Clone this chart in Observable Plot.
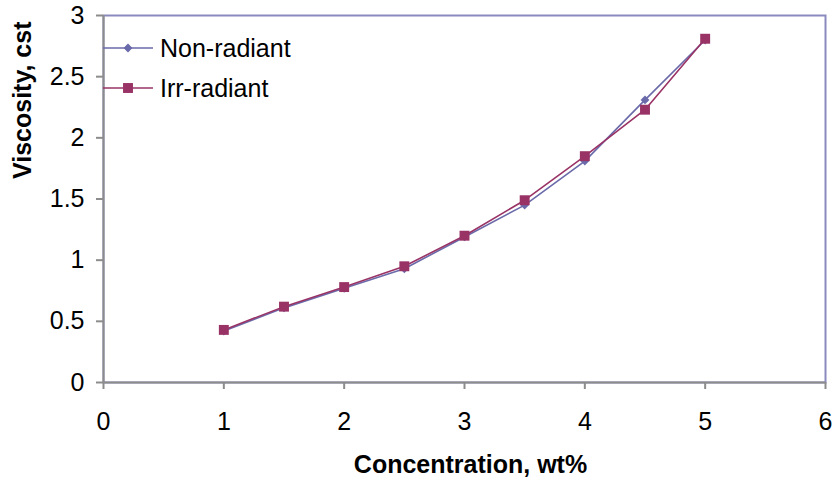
<!DOCTYPE html>
<html>
<head>
<meta charset="utf-8">
<script src="https://cdn.jsdelivr.net/npm/d3@7"></script>
<script src="https://cdn.jsdelivr.net/npm/@observablehq/plot@0.6"></script>
<style>
  html, body { margin: 0; padding: 0; background: #fff; }
  #wrap { position: relative; width: 836px; height: 486px; font-family: "Liberation Sans", Arial, sans-serif; }
  #legend { position: absolute; left: 103px; top: 28px; }
  .item { display: flex; align-items: center; height: 40px; font-size: 25px; color: #000; }
  .item svg { margin-right: 7px; }
</style>
</head>
<body>
<div id="wrap"><div id="legend"></div></div>
<script>
const concentration = [1, 1.5, 2, 2.5, 3, 3.5, 4, 4.5, 5];
const nonRadiant = [0.42, 0.61, 0.77, 0.93, 1.19, 1.45, 1.81, 2.31, 2.80];
const irrRadiant = [0.43, 0.62, 0.78, 0.95, 1.20, 1.49, 1.85, 2.23, 2.81];
const seriesNames = ["Non-radiant", "Irr-radiant"];
const seriesColors = ["#6a6aaa", "#993366"];
const seriesSymbols = ["diamond2", "square"];
const seriesR = [4, 5.6];
const xTicks = [0, 1, 2, 3, 4, 5, 6];
const yTicks = [0, 0.5, 1, 1.5, 2, 2.5, 3];
const xLabel = "Concentration, wt%";
const yLabel = "Viscosity, cst";

const seriesValues = [nonRadiant, irrRadiant];
const data = seriesNames.flatMap((name, s) =>
  concentration.map((c, i) => ({series: name, x: c, y: seriesValues[s][i]}))
);

const marks = [
  Plot.frame({stroke: "#8a8abf", strokeWidth: 2}),
  Plot.ruleX([0], {stroke: "#8c8c8c", strokeWidth: 2}),
  Plot.ruleY([0], {stroke: "#8c8c8c", strokeWidth: 2}),
  Plot.axisX(xTicks, {tickSize: 7, tickPadding: 23, fontSize: 25, fill: "#000", stroke: "#8c8c8c", strokeWidth: 2, tickFormat: d => String(d), label: null}),
  Plot.axisY(yTicks, {tickSize: 7, tickPadding: 12, fontSize: 25, fill: "#000", stroke: "#8c8c8c", strokeWidth: 2, tickFormat: d => String(d), label: null}),
  Plot.text([xLabel], {frameAnchor: "bottom", dx: 6, dy: 90, fontSize: 25, fontWeight: "bold", fill: "#000", fontFamily: "Liberation Sans, Arial, sans-serif"}),
  Plot.text([yLabel], {frameAnchor: "left", dx: -81, dy: -20, rotate: -90, fontSize: 25, fontWeight: "bold", fill: "#000", fontFamily: "Liberation Sans, Arial, sans-serif"})
];
seriesNames.forEach((name, s) => {
  const d = data.filter(r => r.series === name);
  marks.push(Plot.line(d, {x: "x", y: "y", stroke: seriesColors[s], strokeWidth: 1.6}));
  marks.push(Plot.dot(d, {x: "x", y: "y", symbol: seriesSymbols[s], r: seriesR[s], fill: seriesColors[s], stroke: "none"}));
});

const chart = Plot.plot({
  width: 836,
  height: 486,
  marginLeft: 103,
  marginRight: 11,
  marginTop: 15,
  marginBottom: 104,
  style: {fontFamily: "Liberation Sans, Arial, sans-serif", background: "#fff", overflow: "visible"},
  x: {domain: [0, 6]},
  y: {domain: [0, 3]},
  marks
});
const wrap = document.getElementById("wrap");
wrap.insertBefore(chart, wrap.firstChild);

const legend = document.getElementById("legend");
seriesNames.forEach((name, s) => {
  const item = document.createElement("div");
  item.className = "item";
  const sym = d3.create("svg").attr("width", 50).attr("height", 14);
  sym.append("line").attr("x1", 0).attr("x2", 50).attr("y1", 7).attr("y2", 7)
    .attr("stroke", seriesColors[s]).attr("stroke-width", 1.6);
  const sd = s === 0 ? d3.symbolDiamond2 : d3.symbolSquare;
  sym.append("path").attr("transform", "translate(25,7)")
    .attr("d", d3.symbol(sd, Math.PI * seriesR[s] * seriesR[s])())
    .attr("fill", seriesColors[s]);
  item.appendChild(sym.node());
  const t = document.createElement("span");
  t.textContent = name;
  item.appendChild(t);
  legend.appendChild(item);
});
</script>
</body>
</html>
